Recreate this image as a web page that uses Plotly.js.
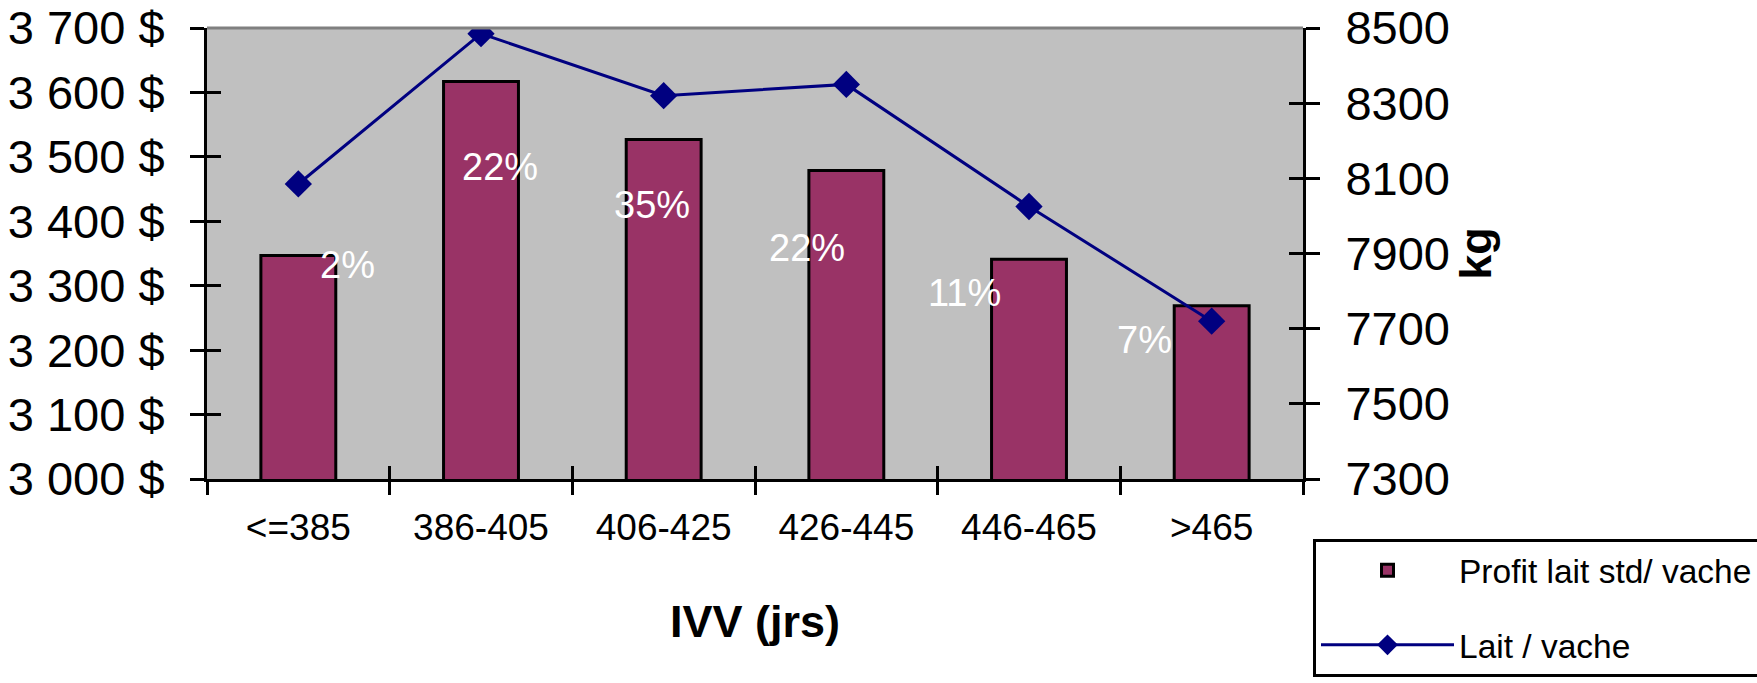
<!DOCTYPE html>
<html>
<head>
<meta charset="utf-8">
<script src="https://cdn.plot.ly/plotly-3.0.1.min.js"></script>
<style>
  html, body { margin: 0; padding: 0; background: #ffffff; }
  #chart { width: 1757px; height: 683px; }
</style>
</head>
<body>
<div id="chart"></div>
<script>
// ---- data ----
const categories = ["<=385", "386-405", "406-425", "426-445", "446-465", ">465"];
const profitValues = [3347, 3617, 3527, 3479, 3341, 3269];   // $ (left axis)
const laitValues = [8085, 8485, 8320, 8350, 8025, 7720];      // kg (right axis)
const pctLabels = ["2%", "22%", "35%", "22%", "11%", "7%"];
const profitName = "Profit lait std/ vache";
const laitName = "Lait / vache";
const xTitle = "IVV (jrs)";
const y2Title = "kg";

// ---- styles ----
const SANS = "Liberation Sans, Arial, sans-serif";
// label placement offsets in pixels relative to each bar top (style only)
const pctShift = [[49, -10], [19, -86], [-12, -66], [-39, -78], [-65, -34], [-67, -34]];

const traces = [
  {
    type: "bar",
    name: profitName,
    x: categories,
    y: profitValues,
    xaxis: "x",
    yaxis: "y",
    width: 0.41,
    marker: { color: "#993366", line: { color: "#000000", width: 3 } },
    legendgroup: "a",
    hoverinfo: "x+y"
  },
  {
    type: "scatter",
    mode: "lines+markers",
    name: laitName,
    x: categories,
    y: laitValues,
    xaxis: "x",
    yaxis: "y2",
    line: { color: "#000080", width: 3 },
    marker: { symbol: "diamond", size: 21, color: "#000080" },
    legendgroup: "b"
  },
  // empty helper traces so the overlay axes (inner half of the crossing ticks) get drawn
  { type: "scatter", mode: "markers", x: [null], y: [null], xaxis: "x2", yaxis: "y3", showlegend: false, hoverinfo: "skip" },
  { type: "scatter", mode: "markers", x: [null], y: [null], xaxis: "x2", yaxis: "y4", showlegend: false, hoverinfo: "skip" }
];

const tickCommon = { tickwidth: 3, tickcolor: "#000000", ticklen: 13 };

const layout = {
  width: 1757,
  height: 683,
  margin: { l: 207, r: 454, t: 28, b: 204, autoexpand: false },
  paper_bgcolor: "#ffffff",
  plot_bgcolor: "#c0c0c0",
  separators: ", ",
  showlegend: true,
  bargap: 0.59,
  xaxis: Object.assign({
    type: "category",
    categoryorder: "array",
    categoryarray: categories,
    range: [-0.5, 5.5],
    tickson: "boundaries",
    ticks: "outside",
    showline: true, linecolor: "#000000", linewidth: 3,
    showgrid: false, zeroline: false,
    tickfont: { family: SANS, size: 37, color: "#000000" },
    ticklabelstandoff: 14,
    title: { text: xTitle, font: { family: SANS, size: 45, color: "#000000", weight: "bold" }, standoff: 59 }
  }, tickCommon),
  xaxis2: Object.assign({
    overlaying: "x",
    anchor: "y",
    range: [-0.5, 5.5],
    tickmode: "linear", tick0: -0.5, dtick: 1,
    ticks: "inside",
    showticklabels: false, showline: false, showgrid: false, zeroline: false
  }, tickCommon),
  yaxis: Object.assign({
    range: [3000, 3700],
    tickmode: "linear", tick0: 3000, dtick: 100,
    tickformat: ",d", ticksuffix: " $",
    ticks: "outside",
    showline: true, linecolor: "#000000", linewidth: 3,
    showgrid: false, zeroline: false,
    tickfont: { family: SANS, size: 47, color: "#000000" },
    ticklabelstandoff: 16
  }, tickCommon, { ticklen: 14 }),
  yaxis2: Object.assign({
    overlaying: "y",
    side: "right",
    anchor: "x",
    range: [7300, 8500],
    tickmode: "linear", tick0: 7300, dtick: 200,
    tickformat: "d",
    ticks: "outside",
    showline: true, linecolor: "#000000", linewidth: 3,
    showgrid: false, zeroline: false,
    tickfont: { family: SANS, size: 47, color: "#000000" },
    ticklabelstandoff: 16,
    title: { text: y2Title, font: { family: SANS, size: 45, color: "#000000", weight: "bold" }, standoff: 2 }
  }, tickCommon, { ticklen: 14 }),
  yaxis3: Object.assign({
    overlaying: "y",
    anchor: "x",
    range: [3000, 3700],
    tickmode: "linear", tick0: 3000, dtick: 100,
    ticks: "inside",
    showticklabels: false, showline: false, showgrid: false, zeroline: false
  }, tickCommon, { ticklen: 14 }),
  yaxis4: Object.assign({
    overlaying: "y",
    side: "right",
    anchor: "x",
    range: [7300, 8500],
    tickmode: "linear", tick0: 7300, dtick: 200,
    ticks: "inside",
    showticklabels: false, showline: false, showgrid: false, zeroline: false
  }, tickCommon, { ticklen: 14 }),
  legend: {
    x: (1313 - 207) / 1096,
    xanchor: "left",
    y: -(539 - 479) / 451,
    yanchor: "top",
    bgcolor: "#ffffff",
    bordercolor: "#000000",
    borderwidth: 3,
    font: { family: SANS, size: 33.5, color: "#000000" },
    itemwidth: 133,
    tracegroupgap: 28,
    traceorder: "grouped"
  },
  shapes: [
    { type: "line", xref: "paper", yref: "paper", x0: 0, x1: 1, y0: 1, y1: 1,
      line: { color: "#808080", width: 3 }, layer: "above" }
  ],
  annotations: categories.map(function (c, i) {
    return {
      x: c, xref: "x",
      y: profitValues[i], yref: "y",
      text: pctLabels[i],
      showarrow: false,
      xanchor: "center", yanchor: "middle",
      xshift: pctShift[i][0], yshift: pctShift[i][1],
      font: { family: SANS, size: 38, color: "#ffffff" }
    };
  })
};

Plotly.newPlot("chart", traces, layout, { displayModeBar: false, staticPlot: true });
</script>
</body>
</html>
